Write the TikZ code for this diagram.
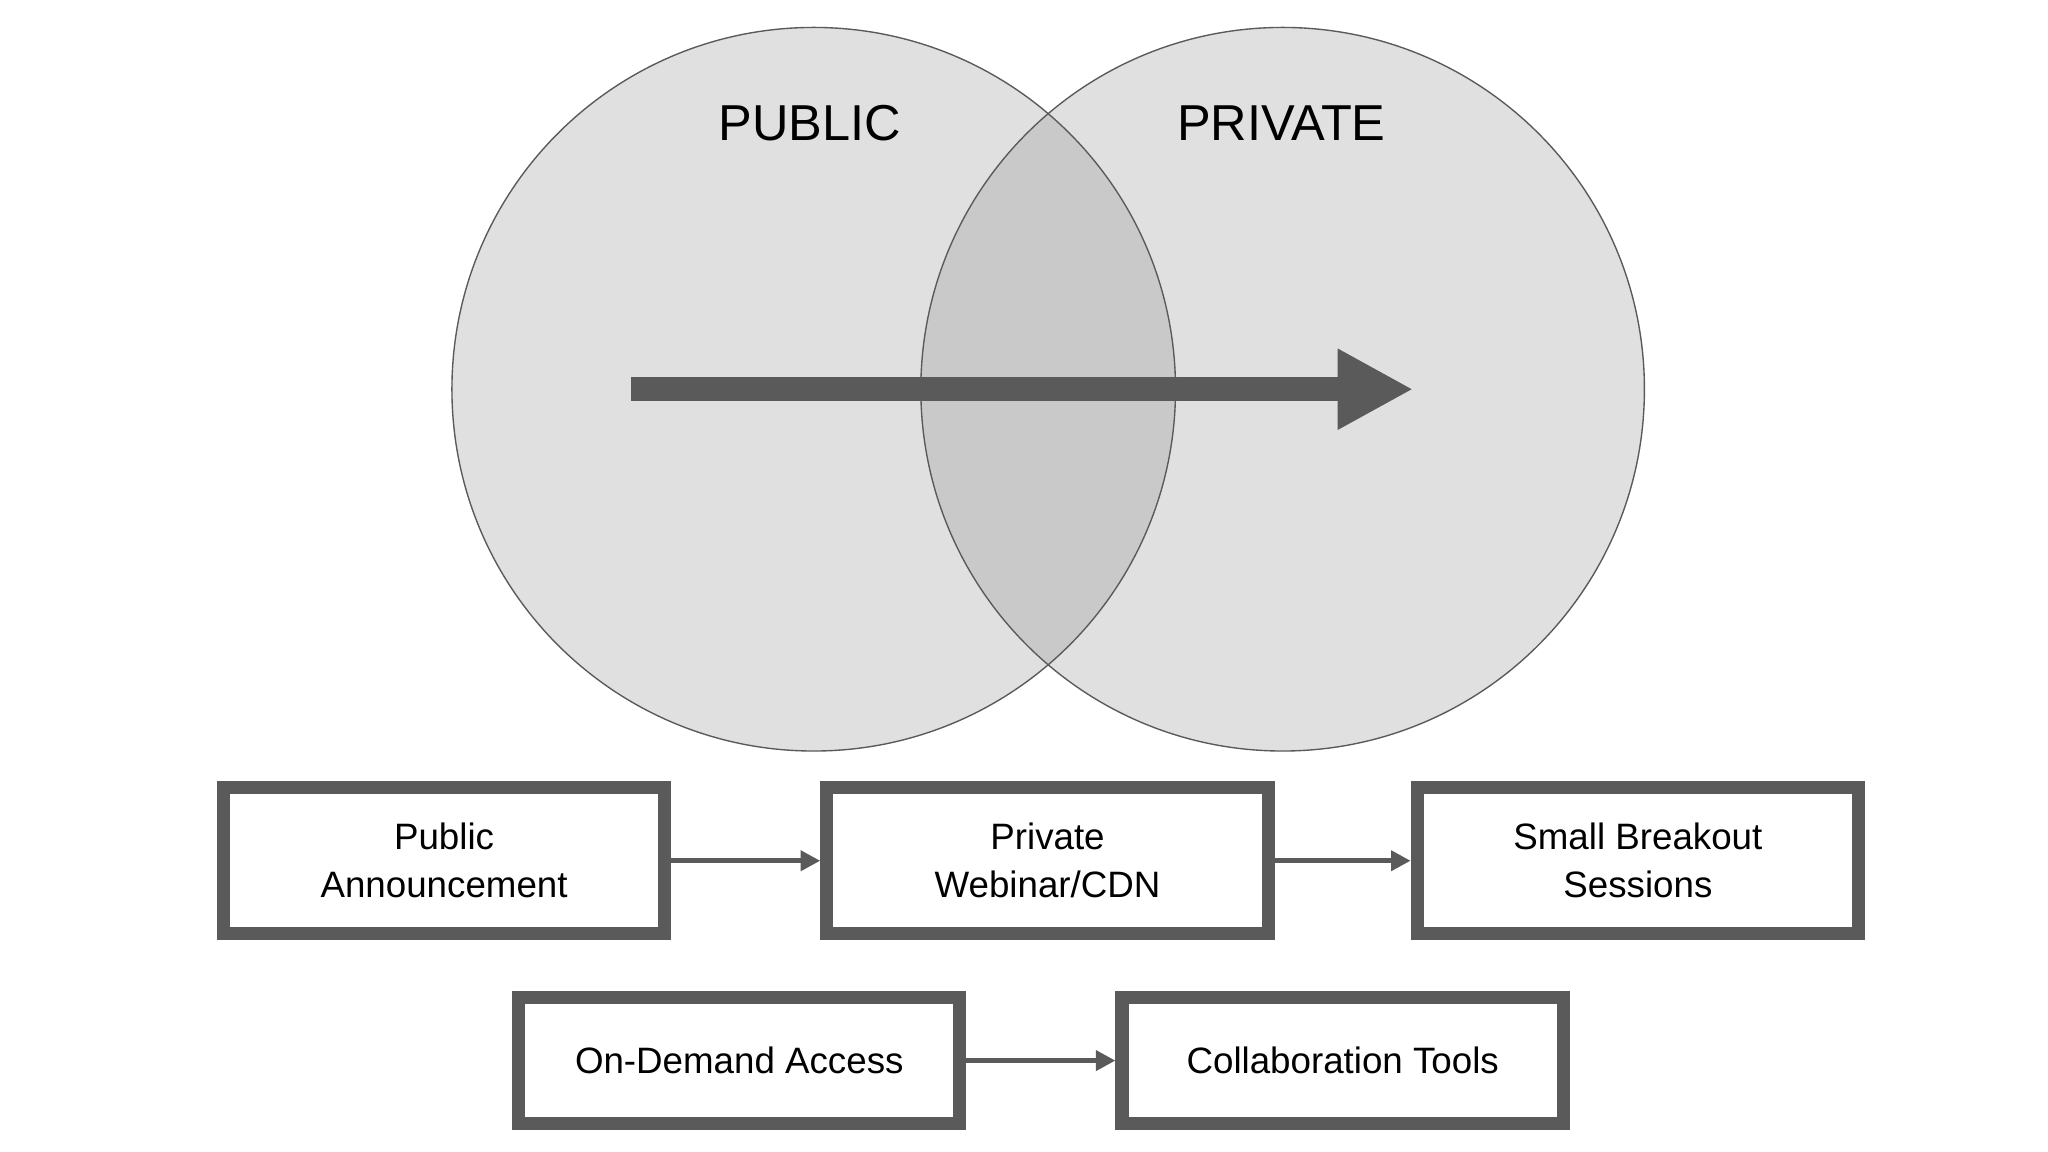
\documentclass[tikz,border=0pt]{standalone}
\usepackage{fontspec}
\setmainfont{Liberation Sans}
\usetikzlibrary{arrows.meta}
\definecolor{dk}{HTML}{5A5A5A}
\begin{document}
\begin{tikzpicture}[x=0.02cm,y=-0.02cm,
  box/.style={draw=dk,line width=0.2cm,fill=white,minimum width=6.76cm,align=center,font=\fontsize{16}{21}\selectfont,inner sep=0pt},
  conn/.style={draw=dk,line width=0.08cm,-{Triangle[length=0.3cm,width=0.3cm]}}]
\useasboundingbox (0,0) rectangle (1568,882);
\fill[white] (0,0) rectangle (1568,882);
\fill[gray!24] (623,298) circle (277);
\fill[gray!24] (982,298) circle (277);
\begin{scope}
\clip (623,298) circle (277);
\fill[gray!42] (982,298) circle (277);
\end{scope}
\draw[dk,line width=0.6pt] (623,298) circle (277);
\draw[dk,line width=0.6pt] (982,298) circle (277);
\node[font=\fontsize{22}{26}\selectfont] (pub) at (620,94) {PUBLIC};
\node[font=\fontsize{22}{26}\selectfont] (pri) at (981,94) {PRIVATE};
\coordinate (as) at (483,298);
\coordinate (ae) at (1082,298);
\draw[dk,line width=0.36cm,-{Triangle[length=1.16cm,width=1.16cm]}] (as) -- (ae);
\node[box,minimum height=2.24cm] (b1) at (340,659) {Public\\Announcement};
\node[box,minimum height=2.24cm] (b2) at (802,659) {Private\\Webinar/CDN};
\node[box,minimum height=2.24cm] (b3) at (1254,659) {Small Breakout\\Sessions};
\node[box,minimum height=1.94cm] (b4) at (566,812) {On-Demand Access};
\node[box,minimum height=1.94cm] (b5) at (1028,812) {Collaboration Tools};
\draw[conn] (b1) -- (b2);
\draw[conn] (b2) -- (b3);
\draw[conn] (b4) -- (b5);
\end{tikzpicture}
\end{document}
